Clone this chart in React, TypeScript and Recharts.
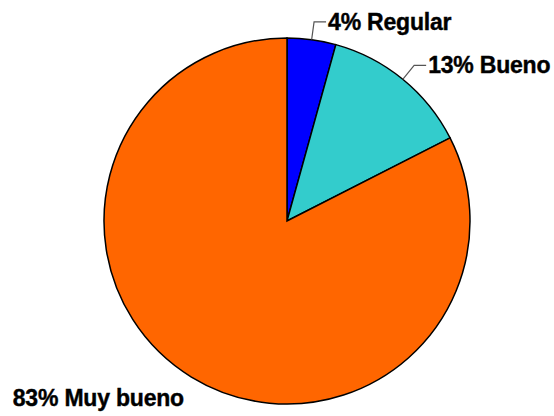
import { PieChart, Pie, Cell } from 'recharts';

const categories = ["Regular", "Bueno", "Muy bueno"];
const shares = [4.3, 13.2, 82.5];
const colors = ["#0000FF", "#33CCCC", "#FF6600"];

const data = categories.map((name, i) => ({ name, value: shares[i] }));

const RADIAN = Math.PI / 180;

const renderLabel = (props: any) => {
    const { cx, cy, midAngle, outerRadius, name, value } = props;
    const cos = Math.cos(-midAngle * RADIAN);
    const sin = Math.sin(-midAngle * RADIAN);
    const ex = cx + outerRadius * cos;
    const ey = cy + outerRadius * sin;
    const kx = cx + (outerRadius + 18) * cos;
    const ky = cy + (outerRadius + 18) * sin;
    const text = `${Math.round(value)}% ${name}`;
    const textStyle = { fontFamily: '"Liberation Sans", Arial, sans-serif', fontWeight: 700, fontSize: 23, letterSpacing: -0.2 };

    if (cos >= 0) {
        // leader line going out radially, then a short horizontal tail
        return (
            <g>
                <polyline points={`${ex},${ey} ${kx},${ky} ${kx + 12},${ky}`} fill="none" stroke="#555" strokeWidth={1.2} />
                <text x={kx + 14} y={ky} dominantBaseline="central" textAnchor="start" fill="#000" stroke="#000" strokeWidth={0.4} style={textStyle}>
                    {text}
                </text>
            </g>
        );
    }
    return (
        <text x={kx + 2} y={ky + 6} dominantBaseline="central" textAnchor="end" fill="#000" stroke="#000" strokeWidth={0.4} style={textStyle}>
            {text}
        </text>
    );
};

const App = () => {
    return (
        <div style={{ position: 'absolute', left: 0, top: 0, background: '#fff' }}>
            <PieChart width={554} height={416}>
                <Pie
                    data={data}
                    dataKey="value"
                    nameKey="name"
                    cx={282}
                    cy={216}
                    outerRadius={183}
                    startAngle={90}
                    endAngle={-270}
                    stroke="#000"
                    strokeWidth={1.5}
                    label={renderLabel}
                    labelLine={false}
                    isAnimationActive={false}
                >
                    {data.map((entry, i) => (
                        <Cell key={entry.name} fill={colors[i]} />
                    ))}
                </Pie>
            </PieChart>
        </div>
    );
};

export default App;
